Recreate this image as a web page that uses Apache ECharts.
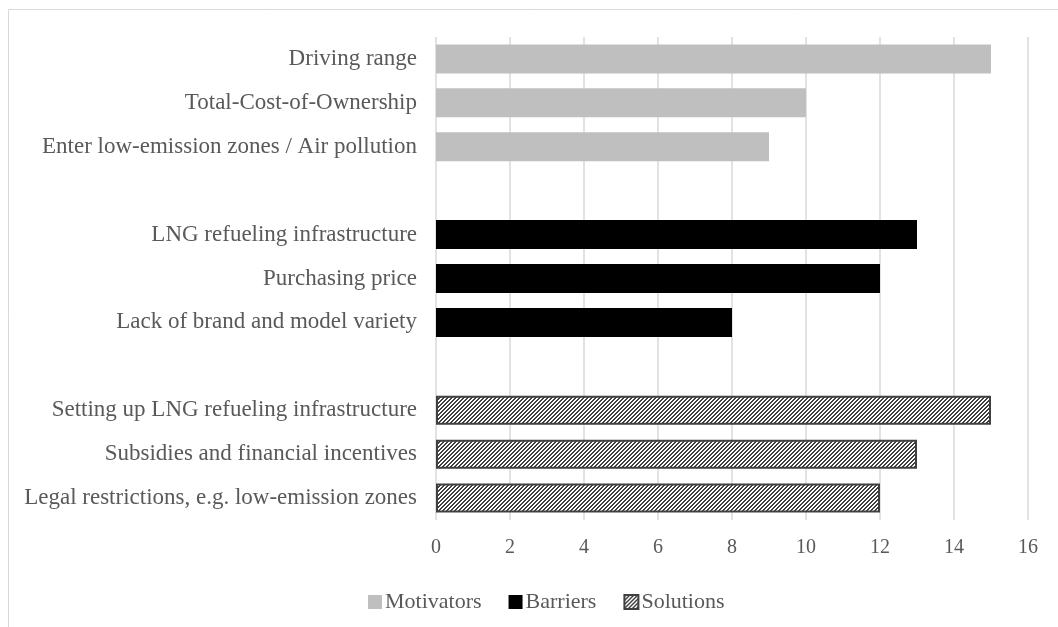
<!DOCTYPE html>
<html>
<head>
<meta charset="utf-8">
<script src="https://cdn.jsdelivr.net/npm/echarts@6/dist/echarts.min.js"></script>
<style>
html,body{margin:0;padding:0;background:#fff;}
#c{width:1058px;height:627px;}
</style>
</head>
<body>
<div id="c"></div>
<script>
var motivatorLabels = ['Driving range', 'Total-Cost-of-Ownership', 'Enter low-emission zones / Air pollution'];
var motivatorValues = [15, 10, 9];
var barrierLabels = ['LNG refueling infrastructure', 'Purchasing price', 'Lack of brand and model variety'];
var barrierValues = [13, 12, 8];
var solutionLabels = ['Setting up LNG refueling infrastructure', 'Subsidies and financial incentives', 'Legal restrictions, e.g. low-emission zones'];
var solutionValues = [15, 13, 12];
var seriesNames = ['Motivators', 'Barriers', 'Solutions'];
var xTicks = {min: 0, max: 16, interval: 2};

// categories with empty gap rows between groups
var categories = [].concat(motivatorLabels, [' '], barrierLabels, ['  '], solutionLabels);
function pad(before, vals, after) {
  var out = [];
  for (var i = 0; i < before; i++) out.push('-');
  out = out.concat(vals);
  for (var j = 0; j < after; j++) out.push('-');
  return out;
}
var mData = pad(0, motivatorValues, 8);
var bData = pad(4, barrierValues, 4);
var sData = pad(8, solutionValues, 0);

// hatch pattern
var pc = document.createElement('canvas');
pc.width = 4; pc.height = 4;
var pctx = pc.getContext('2d');
var img = pctx.createImageData(4, 4);
for (var y = 0; y < 4; y++) {
  for (var x = 0; x < 4; x++) {
    var k = (y * 4 + x) * 4;
    var dark = ((x + y) % 4) < 2;
    var v = dark ? 0x40 : 0xff;
    img.data[k] = v; img.data[k + 1] = v; img.data[k + 2] = v; img.data[k + 3] = 255;
  }
}
pctx.putImageData(img, 0, 0);

var font = 'Liberation Serif';
var chart = echarts.init(document.getElementById('c'), null, {renderer: 'canvas'});
chart.setOption({
  animation: false,
  backgroundColor: '#fff',
  graphic: [{
    type: 'rect',
    shape: {x: 8.5, y: 9.5, width: 1100, height: 700},
    style: {fill: 'none', stroke: '#d9d9d9', lineWidth: 1},
    silent: true
  }],
  grid: {left: 436, right: 30, top: 37, bottom: 107, containLabel: false},
  legend: {
    data: seriesNames,
    left: 363, top: 586,
    itemWidth: 14, itemHeight: 14, itemGap: 27,
    icon: 'rect',
    textStyle: {fontFamily: font, fontSize: 22, color: '#595959', padding: [0, 0, 0, -2]}
  },
  xAxis: {
    type: 'value',
    min: xTicks.min, max: xTicks.max, interval: xTicks.interval,
    axisLine: {show: false}, axisTick: {show: false},
    splitLine: {lineStyle: {color: '#d9d9d9', width: 1.5}},
    axisLabel: {fontFamily: font, fontSize: 20, color: '#595959', margin: 18}
  },
  yAxis: {
    type: 'category', inverse: true, data: categories,
    axisLine: {show: false}, axisTick: {show: false},
    axisLabel: {fontFamily: font, fontSize: 23, color: '#595959', margin: 19}
  },
  series: [
    {name: seriesNames[0], type: 'bar', stack: 'all', barWidth: 29, data: mData,
     itemStyle: {color: '#bfbfbf'}},
    {name: seriesNames[1], type: 'bar', stack: 'all', barWidth: 29, data: bData,
     itemStyle: {color: '#000000'}},
    {name: seriesNames[2], type: 'bar', stack: 'all', barWidth: 29, data: sData,
     itemStyle: {color: {image: pc, repeat: 'repeat'}, borderColor: '#404040', borderWidth: 2}}
  ]
});
</script>
</body>
</html>
